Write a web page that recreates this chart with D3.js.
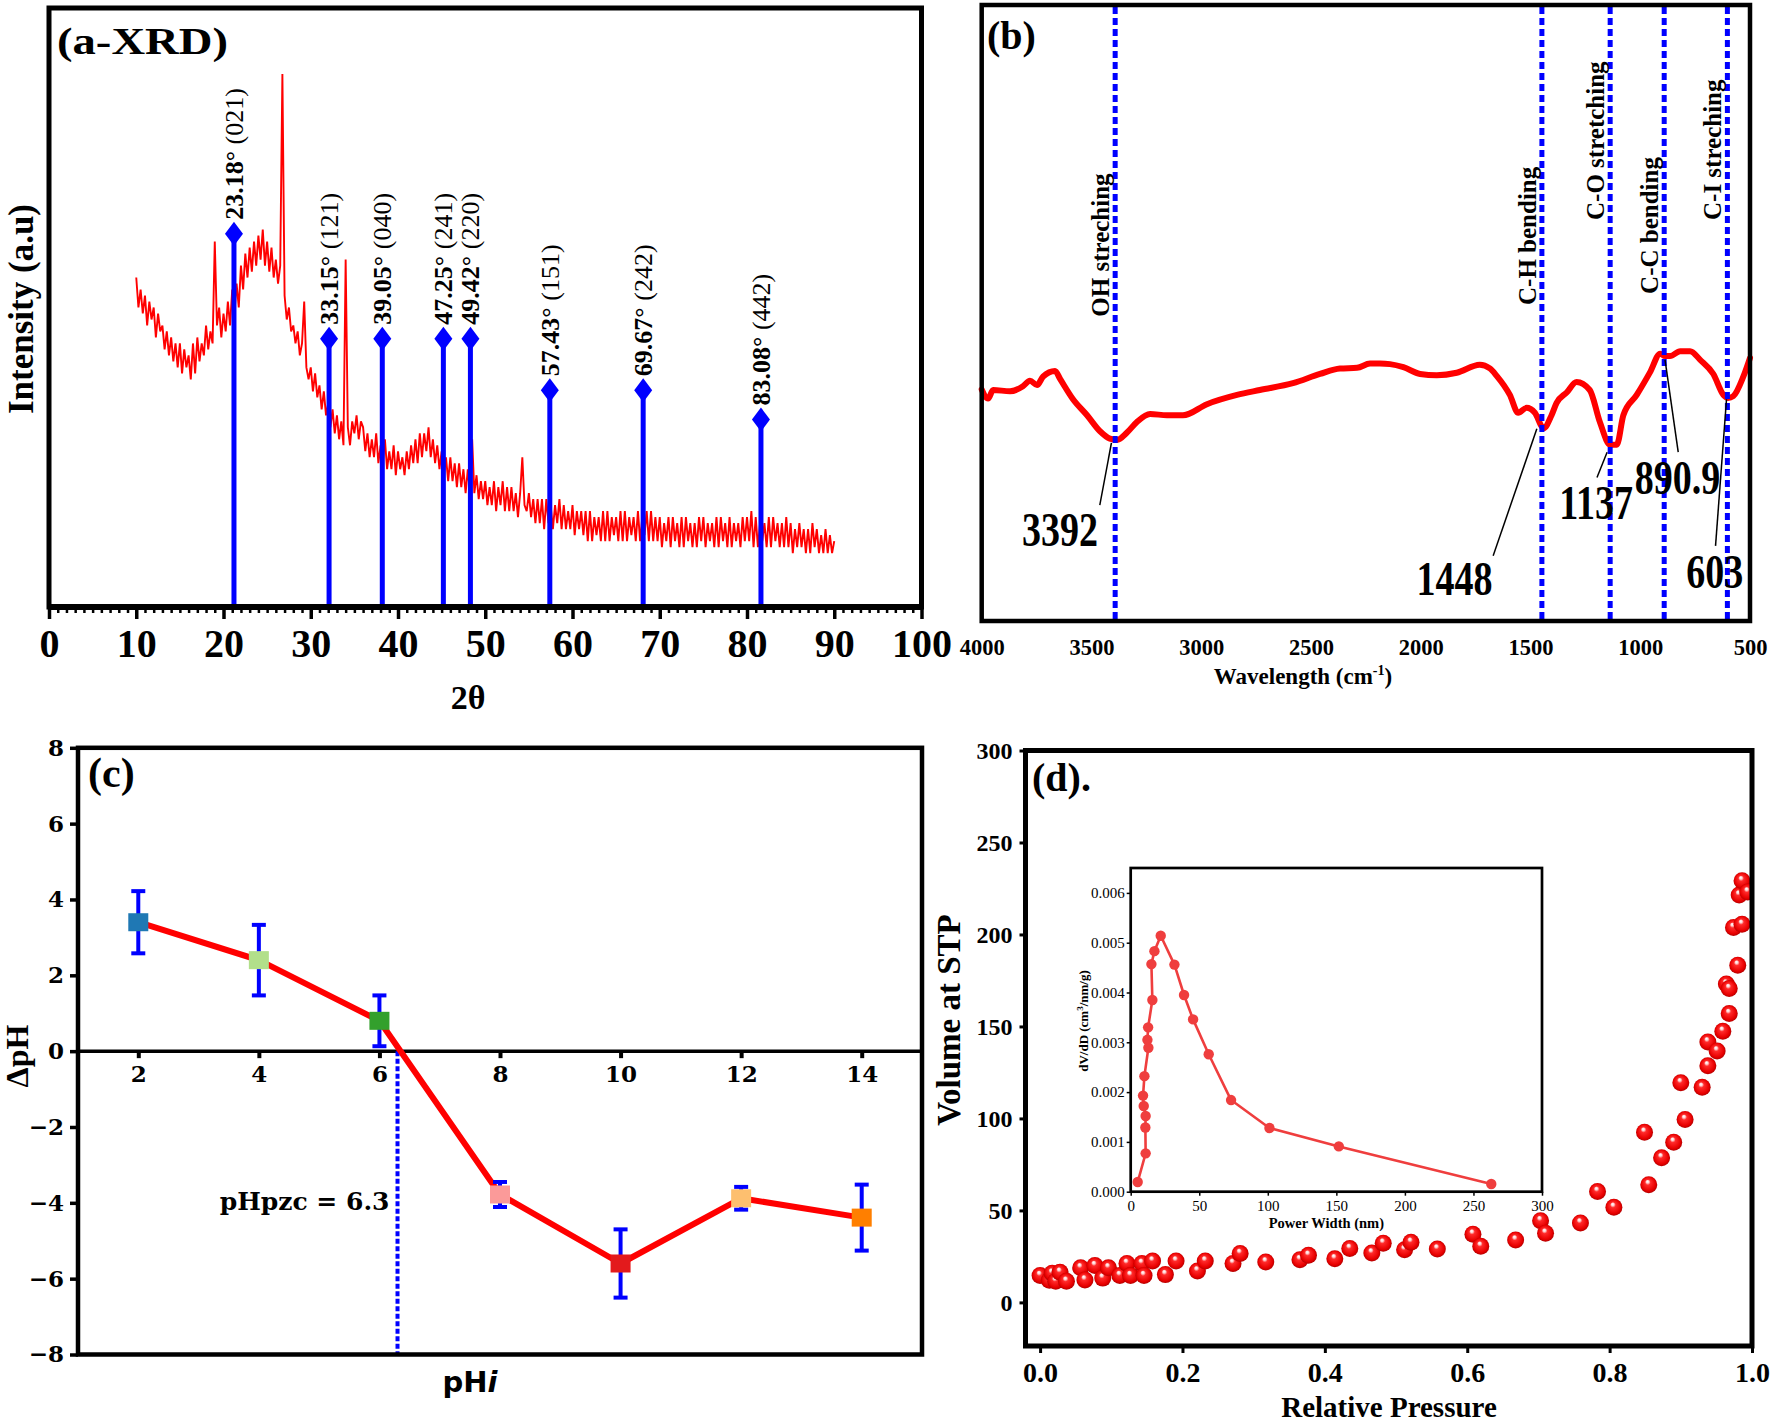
<!DOCTYPE html>
<html><head><meta charset="utf-8">
<script src="https://cdn.jsdelivr.net/npm/d3@7"></script>
<style>html,body{margin:0;padding:0;background:#fff;} svg{display:block;}</style>
</head><body><svg id="fig" width="1773" height="1424"></svg>
<script>
// ================= DATA =================
// (a) XRD pattern, sampled every 0.25 deg from 10 to 90 deg (arbitrary intensity)
const xrdStart = 10, xrdStep = 0.25;
const xrdIntensity = [
 55,50,53,49, 52,47,51,48, 50,45,49,46, 47,43,46,42, 45,41,44,40,
 44,39,43,40, 42,38,44,39, 45,41,44,42, 47,43,46,44, 61,47,50,45,
 49,46,51,47, 53,49,54,50, 57,53,59,55, 60,56,61,57, 62,58,63,57,
 61,56,60,55, 58,54,57,89, 52,48,50,46, 47,44,46,42, 44,51,40,38,
 40,36,39,35, 37,33,36,32, 34,30,33,29, 32,28,31,27, 58,30,27,31,
 29,32,28,31, 30,26,29,25, 28,25,29,24, 27,24,28,23, 26,23,27,22,
 26,23,25,22, 26,23,27,24, 28,24,29,25, 29,26,30,25, 28,24,27,23,
 26,22,25,21, 25,21,24,20, 24,20,23,19, 23,19,28,19, 22,18,21,18,
 21,17,20,17, 21,16,20,17, 21,16,20,16, 20,16,19,15, 19,25,17,16,
 19,15,18,14, 18,14,18,13, 18,14,17,13, 17,14,18,13, 17,13,16,13,
 17,12,16,13, 16,12,16,11, 16,11,15,12, 15,11,16,11, 16,11,15,12,
 15,11,16,11, 16,11,15,12, 15,11,16,11, 15,12,16,11, 16,11,15,11,
 15,10,14,11, 15,10,15,11, 14,10,15,10, 15,11,14,10, 14,10,15,11,
 15,10,14,11, 14,10,15,10, 15,11,14,10, 15,10,14,11, 14,10,15,11,
 15,11,16,10, 15,10,14,11, 14,10,15,10, 15,11,14,10, 14,10,15,10,
 14,9,13,10, 14,10,13,9, 13,9,14,10, 13,9,12,9, 13,9,12,9,
 11];
const xrdPeakPos = [21.2, 32.1, 38.2, 45.2, 48.3, 57.4, 68.1, 81.6];
const xrdPeakHeight = [62.3, 44.8, 44.8, 44.8, 44.8, 36.2, 36.2, 31.3];
const xrdPeakAngle = ["23.18°", "33.15°", "39.05°", "47.25°", "49.42°", "57.43°", "69.67°", "83.08°"];
const xrdPeakHkl = ["(021)", "(121)", "(040)", "(241)", "(220)", "(151)", "(242)", "(442)"];
const xrdTicks = [0, 10, 20, 30, 40, 50, 60, 70, 80, 90, 100];

// (b) FTIR spectrum
const ftirWave = [4000,3971,3948,3871,3812,3780,3748,3720,3666,3643,3584,3520,3461,3416,3384,3338,3293,3233,3156,3083,2974,2837,2733,2582,2459,2368,2290,2231,2186,2140,2079,2003,1927,1836,1731,1685,1654,1594,1556,1518,1480,1440,1404,1381,1335,1290,1230,1184,1137,1107,1077,1016,955,909,887,864,818,773,727,667,621,600,576,530,500];
const ftirT = [37.6,36.1,37.5,37.3,38.1,39.0,38.3,39.7,40.6,39.3,36.0,33.4,30.8,29.6,29.4,30.6,32.3,33.6,33.4,33.4,35.2,36.7,37.5,38.6,40.1,41.0,41.1,41.8,41.8,41.7,41.2,40.1,39.9,40.3,41.6,41.0,39.8,36.7,33.8,34.6,33.8,31.3,33.4,35.4,37.1,38.8,37.5,32.3,28.6,28.6,33.4,36.7,40.4,43.4,43.0,43.0,43.8,43.8,42.4,40.1,36.7,36.2,36.5,39.7,42.7];
const ftirTicks = [4000, 3500, 3000, 2500, 2000, 1500, 1000, 500];
const ftirBands = [3392, 1448, 1137, 890.9, 603];
const ftirBandNames = ["OH streching", "C-H bending", "C-O stretching", "C-C bending", "C-I streching"];
const ftirBandNameBase = [49.4, 51.3, 65.1, 53.1, 65.1];
const ftirBandLabels = ["3392", "1448", "1137", "890.9", "603"];
const ftirLabelWave = [3643, 1846, 1201, 830, 661];
const ftirLabelT = [12.2, 4.2, 16.6, 20.6, 5.4];
const ftirLeaderFrom = [[3409, 28.9], [1471, 31.2], [1151, 27.4], [887, 42.4], [607, 36.0]];
const ftirLeaderTo = [[3462, 18.8], [1670, 10.6], [1197, 23.3], [827, 27.4], [657, 12.2]];

// (c) point of zero charge
const phInitial = [2, 4, 6, 8, 10, 12, 14];
const deltaPH = [3.4, 2.4, 0.8, -3.78, -5.6, -3.88, -4.39];
const deltaErr = [0.82, 0.93, 0.67, 0.33, 0.9, 0.3, 0.87];
const markerColors = ["#1f78b4", "#b2df8a", "#33a02c", "#fb9a99", "#e31a1c", "#fdbf6f", "#ff7f00"];
const pHpzc = 6.3;
const phXTicks = [2, 4, 6, 8, 10, 12, 14];
const phYTicks = [-8, -6, -4, -2, 0, 2, 4, 6, 8];

// (d) N2 isotherm
const relP = [0,0.013,0.017,0.022,0.028,0.037,0.057,0.063,0.077,0.088,
 0.096,0.112,0.122,0.127,0.143,0.146,0.158,0.176,0.191,0.221,
 0.232,0.271,0.281,0.317,0.365,0.377,0.414,0.435,0.466,0.482,
 0.512,0.521,0.558,0.608,0.619,0.668,0.703,0.71,0.759,0.783,
 0.806,0.849,0.855,0.873,0.89,0.9,0.906,0.93,0.938,0.938,
 0.951,0.959,0.968,0.964,0.968,0.98,0.974,0.986,0.982,0.986,0.994];
const volSTP = [14.6,12,15.9,11.5,16.4,11.5,18.8,12.2,20,13.2,
 18.8,14.6,21.2,14.6,21.2,14.6,22.5,15.1,22.5,17.1,
 22.5,21.2,26.6,22,23.2,25.6,23.7,29.3,26.9,32.2,
 28.6,32.7,29,37.1,30.5,33.9,44.4,37.6,43.2,60.3,
 51.7,92.5,64,78.6,87.1,119.4,99.4,116.9,128.6,141.6,
 136.7,147.4,157,173.1,170.6,183.3,203.8,205.5,221.4,229.2,223.1];
const volTicks = [0, 50, 100, 150, 200, 250, 300];
const presTicks = [0, 0.2, 0.4, 0.6, 0.8, 1.0];
// inset: pore size distribution
const poreWidth = [5.1,10.9,10.7,10.9,9.5,9.0,10.0,12.9,12.2,12.7,15.8,15.1,17.3,21.9,31.9,38.9,45.5,56.9,73.2,101.2,151.8,263];
const dVdD = [0.000195,0.00077,0.00129,0.00152,0.00172,0.00193,0.00232,0.00289,0.00305,0.0033,0.00385,0.00457,0.00483,0.00514,0.00456,0.00395,0.00346,0.00276,0.00184,0.00128,0.00091,0.000154];
const insetXTicks = [0, 50, 100, 150, 200, 250, 300];
const insetYTicks = [0, 0.001, 0.002, 0.003, 0.004, 0.005, 0.006];

// ================= HELPERS =================
const SERIF = "'Liberation Serif','Times New Roman',serif";
const WSERIF = "'DejaVu Serif',serif";
const SANS = "'DejaVu Sans',sans-serif";
const BLUE = "#0000ff", RED = "#ff0000";
const svg = d3.select("#fig");

function T(g, o) {
  let tr = `translate(${o.x},${o.y})`;
  if (o.rot) tr += ` rotate(${o.rot})`;
  if (o.sx || o.sy) tr += ` scale(${o.sx || 1},${o.sy || 1})`;
  const t = g.append("text").attr("transform", tr)
    .attr("font-family", o.family || SERIF)
    .attr("font-size", o.size)
    .attr("font-weight", o.weight || "bold")
    .attr("text-anchor", o.anchor || "start")
    .attr("fill", o.fill || "#000");
  if (o.len) t.attr("textLength", o.len).attr("lengthAdjust", "spacingAndGlyphs");
  if (o.text !== undefined) t.text(o.text);
  return t;
}
function styleAxis(sel, o) {
  sel.select(".domain").remove();
  sel.selectAll(".tick line").attr("stroke", "#000").attr("stroke-width", o.tw || 3);
  sel.selectAll(".tick text").attr("font-family", o.family || SERIF)
    .attr("font-size", o.size).attr("font-weight", o.weight || "bold").attr("fill", "#000");
}
function frame(g, x0, y0, x1, y1, w) {
  g.append("rect").attr("x", x0).attr("y", y0).attr("width", x1 - x0).attr("height", y1 - y0)
    .attr("fill", "none").attr("stroke", "#000").attr("stroke-width", w);
}

const defs = svg.append("defs");
const grad = defs.append("radialGradient").attr("id", "ball")
  .attr("cx", "50%").attr("cy", "50%").attr("r", "55%").attr("fx", "42%").attr("fy", "30%");
[[0, "#ffffff"], [0.14, "#ffd6d6"], [0.3, "#ff2a2a"], [0.75, "#e80000"], [1, "#a00000"]]
  .forEach(([o, c]) => grad.append("stop").attr("offset", o).attr("stop-color", c));

// ================= PANEL (a) =================
{
  const g = svg.append("g");
  const L = 49, R = 921.5, Tp = 8, B = 607;
  const x = d3.scaleLinear().domain([0, 100]).range([L, R]);
  const y = d3.scaleLinear().domain([0, 100]).range([B, Tp]);

  const line = d3.line().x((d, i) => x(xrdStart + i * xrdStep)).y(d => y(d));
  g.append("path").attr("d", line(xrdIntensity)).attr("fill", "none")
    .attr("stroke", RED).attr("stroke-width", 1.9).attr("stroke-linejoin", "miter");

  xrdPeakPos.forEach((p, i) => {
    g.append("line").attr("x1", x(p)).attr("x2", x(p)).attr("y1", y(0)).attr("y2", y(xrdPeakHeight[i]))
      .attr("stroke", BLUE).attr("stroke-width", 5);
    const cx = x(p), cy = y(xrdPeakHeight[i]);
    g.append("path").attr("d", `M${cx},${cy - 12}L${cx + 9},${cy}L${cx},${cy + 12}L${cx - 9},${cy}Z`).attr("fill", BLUE);
    const t = T(g, { x: cx + 9, y: cy - 14, rot: -90, size: 26, weight: "normal" });
    t.append("tspan").attr("font-weight", "bold").text(xrdPeakAngle[i]);
    t.append("tspan").text(" " + xrdPeakHkl[i]);
  });

  const ax = g.append("g").attr("transform", `translate(0,${B})`)
    .call(d3.axisBottom(x).tickValues(xrdTicks).tickSize(12).tickPadding(10).tickFormat(d3.format("d")));
  styleAxis(ax, { size: 40, tw: 3.5 });
  const minor = d3.range(0, 101, 1).filter(v => v % 10 !== 0);
  const axm = g.append("g").attr("transform", `translate(0,${B})`)
    .call(d3.axisBottom(x).tickValues(minor).tickSize(6).tickFormat(""));
  styleAxis(axm, { size: 1, tw: 2.5 });

  frame(g, L, Tp, R, B, 5);
  g.append("line").attr("x1", L).attr("x2", R).attr("y1", B).attr("y2", B).attr("stroke", "#000").attr("stroke-width", 6);

  T(g, { x: 57, y: 54, text: "(a-XRD)", size: 38, len: 171 });
  T(g, { x: 33, y: 309, rot: -90, text: "Intensity (a.u)", size: 35, anchor: "middle" });
  T(g, { x: 468, y: 709, text: "2θ", size: 34, anchor: "middle" });
}

// ================= PANEL (b) =================
{
  const g = svg.append("g");
  const L = 981.7, R = 1750, Tp = 5, B = 621;
  const x = d3.scaleLinear().domain([4000, 500]).range([L, R]);
  const y = d3.scaleLinear().domain([0, 100]).range([B, Tp]);

  const line = d3.line().x((d, i) => x(ftirWave[i])).y(d => y(d)).curve(d3.curveMonotoneX);
  g.append("path").attr("d", line(ftirT)).attr("fill", "none")
    .attr("stroke", RED).attr("stroke-width", 6).attr("stroke-linejoin", "round").attr("stroke-linecap", "round");

  ftirBands.forEach((w, i) => {
    g.append("line").attr("x1", x(w)).attr("x2", x(w)).attr("y1", Tp + 2).attr("y2", B - 2)
      .attr("stroke", BLUE).attr("stroke-width", 5).attr("stroke-dasharray", "7,4");
    T(g, { x: x(w) - 6, y: y(ftirBandNameBase[i]), rot: -90, text: ftirBandNames[i], size: 25 });
    g.append("line")
      .attr("x1", x(ftirLeaderFrom[i][0])).attr("y1", y(ftirLeaderFrom[i][1]))
      .attr("x2", x(ftirLeaderTo[i][0])).attr("y2", y(ftirLeaderTo[i][1]))
      .attr("stroke", "#000").attr("stroke-width", 1.5);
    T(g, { x: x(ftirLabelWave[i]), y: y(ftirLabelT[i]), text: ftirBandLabels[i], size: 38, anchor: "middle", sy: 1.25 });
  });

  const ax = g.append("g").attr("transform", `translate(0,${B})`)
    .call(d3.axisBottom(x).tickValues(ftirTicks).tickSize(0).tickPadding(18).tickFormat(d3.format("d")));
  styleAxis(ax, { size: 22.5, tw: 0 });

  frame(g, L, Tp, R, B, 4.5);
  T(g, { x: 987, y: 49, text: "(b)", size: 40 });
  const xl = T(g, { x: 1303, y: 684, size: 23, anchor: "middle" });
  xl.append("tspan").text("Wavelength (cm");
  xl.append("tspan").attr("font-size", 14).attr("dy", -9).text("-1");
  xl.append("tspan").attr("dy", 9).text(")");
}

// ================= PANEL (c) =================
{
  const g = svg.append("g");
  const L = 78, R = 922, Tp = 747.8, B = 1354.5;
  const x = d3.scaleLinear().domain([1, 15]).range([L, R]);
  const y = d3.scaleLinear().domain([-8, 8]).range([B, Tp]);

  g.append("line").attr("x1", L).attr("x2", R).attr("y1", y(0)).attr("y2", y(0)).attr("stroke", "#000").attr("stroke-width", 3.5);
  const axx = g.append("g").attr("transform", `translate(0,${y(0)})`)
    .call(d3.axisBottom(x).tickValues(phXTicks).tickSize(7).tickPadding(8).tickFormat(d3.format("d")));
  styleAxis(axx, { size: 23, family: WSERIF, tw: 4 });
  const axy = g.append("g").attr("transform", `translate(${L},0)`)
    .call(d3.axisLeft(y).tickValues(phYTicks).tickSize(8).tickPadding(6).tickFormat(d3.format("d")));
  styleAxis(axy, { size: 23, family: WSERIF, tw: 3.5 });

  g.append("line").attr("x1", x(pHpzc)).attr("x2", x(pHpzc)).attr("y1", y(0)).attr("y2", B)
    .attr("stroke", BLUE).attr("stroke-width", 4).attr("stroke-dasharray", "5,2.5");

  const line = d3.line().x((d, i) => x(phInitial[i])).y(d => y(d));
  g.append("path").attr("d", line(deltaPH)).attr("fill", "none").attr("stroke", RED).attr("stroke-width", 6).attr("stroke-linejoin", "round");

  deltaPH.forEach((v, i) => {
    const cx = x(phInitial[i]), e = deltaErr[i];
    g.append("line").attr("x1", cx).attr("x2", cx).attr("y1", y(v - e)).attr("y2", y(v + e)).attr("stroke", BLUE).attr("stroke-width", 4);
    [v - e, v + e].forEach(c => g.append("line").attr("x1", cx - 7).attr("x2", cx + 7).attr("y1", y(c)).attr("y2", y(c)).attr("stroke", BLUE).attr("stroke-width", 4));
  });
  deltaPH.forEach((v, i) => {
    g.append("rect").attr("x", x(phInitial[i]) - 10).attr("y", y(v) - 9).attr("width", 20).attr("height", 18).attr("fill", markerColors[i]);
  });

  frame(g, L, Tp, R, B, 4.5);
  T(g, { x: 88, y: 787, text: "(c)", size: 42 });
  T(g, { x: 28, y: 1056, rot: -90, text: "ΔpH", size: 32, anchor: "middle" });
  const xl = T(g, { x: 470, y: 1392, size: 29, family: SANS, anchor: "middle" });
  xl.append("tspan").text("pH");
  xl.append("tspan").attr("font-style", "italic").text("i");
  T(g, { x: x(pHpzc) - 8, y: 1210, text: "pHpzc = " + pHpzc, size: 25, family: WSERIF, anchor: "end" });
}

// ================= PANEL (d) =================
{
  const g = svg.append("g");
  const L = 1025.5, R = 1752, Tp = 750.5, B = 1346;
  const x = d3.scaleLinear().domain([-0.0205, 1.0]).range([L, R]);
  const y = d3.scaleLinear().domain([-23.7, 300]).range([B, Tp]);

  defs.append("clipPath").attr("id", "clipd").append("rect").attr("x", L).attr("y", Tp).attr("width", R - L).attr("height", B - Tp);
  const pts = g.append("g").attr("clip-path", "url(#clipd)");
  relP.forEach((p, i) => {
    pts.append("circle").attr("cx", x(p)).attr("cy", y(volSTP[i])).attr("r", 8.5).attr("fill", "url(#ball)");
  });

  const axy = g.append("g").attr("transform", `translate(${L},0)`)
    .call(d3.axisLeft(y).tickValues(volTicks).tickSize(6).tickPadding(7).tickFormat(d3.format("d")));
  styleAxis(axy, { size: 24, tw: 3 });
  const axx = g.append("g").attr("transform", `translate(0,${B})`)
    .call(d3.axisBottom(x).tickValues(presTicks).tickSize(7).tickPadding(9).tickFormat(d3.format(".1f")));
  styleAxis(axx, { size: 28, tw: 3 });

  frame(g, L, Tp, R, B, 5);
  T(g, { x: 1032, y: 791, text: "(d).", size: 40 });
  T(g, { x: 960, y: 1020, rot: -90, text: "Volume at STP", size: 33, anchor: "middle" });
  T(g, { x: 1389, y: 1417, text: "Relative Pressure", size: 29, anchor: "middle" });

  // inset
  const iL = 1130.7, iR = 1542, iT = 868, iB = 1191.7;
  const ix = d3.scaleLinear().domain([0, 300]).range([iL, iR]);
  const iy = d3.scaleLinear().domain([0, 0.0065]).range([iB, iT]);
  g.append("rect").attr("x", iL).attr("y", iT).attr("width", iR - iL).attr("height", iB - iT).attr("fill", "#fff");
  const iline = d3.line().x((d, i) => ix(poreWidth[i])).y(d => iy(d));
  g.append("path").attr("d", iline(dVdD)).attr("fill", "none").attr("stroke", "#ef3e3e").attr("stroke-width", 2.6).attr("stroke-linejoin", "round");
  dVdD.forEach((v, i) => g.append("circle").attr("cx", ix(poreWidth[i])).attr("cy", iy(v)).attr("r", 5.2).attr("fill", "#ef3e3e"));
  const iax = g.append("g").attr("transform", `translate(0,${iB})`)
    .call(d3.axisBottom(ix).tickValues(insetXTicks).tickSize(4).tickPadding(5).tickFormat(d3.format("d")));
  styleAxis(iax, { size: 15, weight: "normal", tw: 1.5 });
  const iay = g.append("g").attr("transform", `translate(${iL},0)`)
    .call(d3.axisLeft(iy).tickValues(insetYTicks).tickSize(4).tickPadding(2).tickFormat(d3.format(".3f")));
  styleAxis(iay, { size: 15, weight: "normal", tw: 1.5 });
  frame(g, iL, iT, iR, iB, 2.7);
  T(g, { x: (iL + iR) / 2 - 10, y: 1228, text: "Power Width (nm)", size: 14.5, anchor: "middle" });
  const yl = T(g, { x: 1088, y: 1021, rot: -90, size: 13, anchor: "middle" });
  yl.append("tspan").text("dV/dD (cm");
  yl.append("tspan").attr("font-size", 9).attr("dy", -5).text("3");
  yl.append("tspan").attr("dy", 5).text("/nm/g)");
}
</script>
</body></html>
